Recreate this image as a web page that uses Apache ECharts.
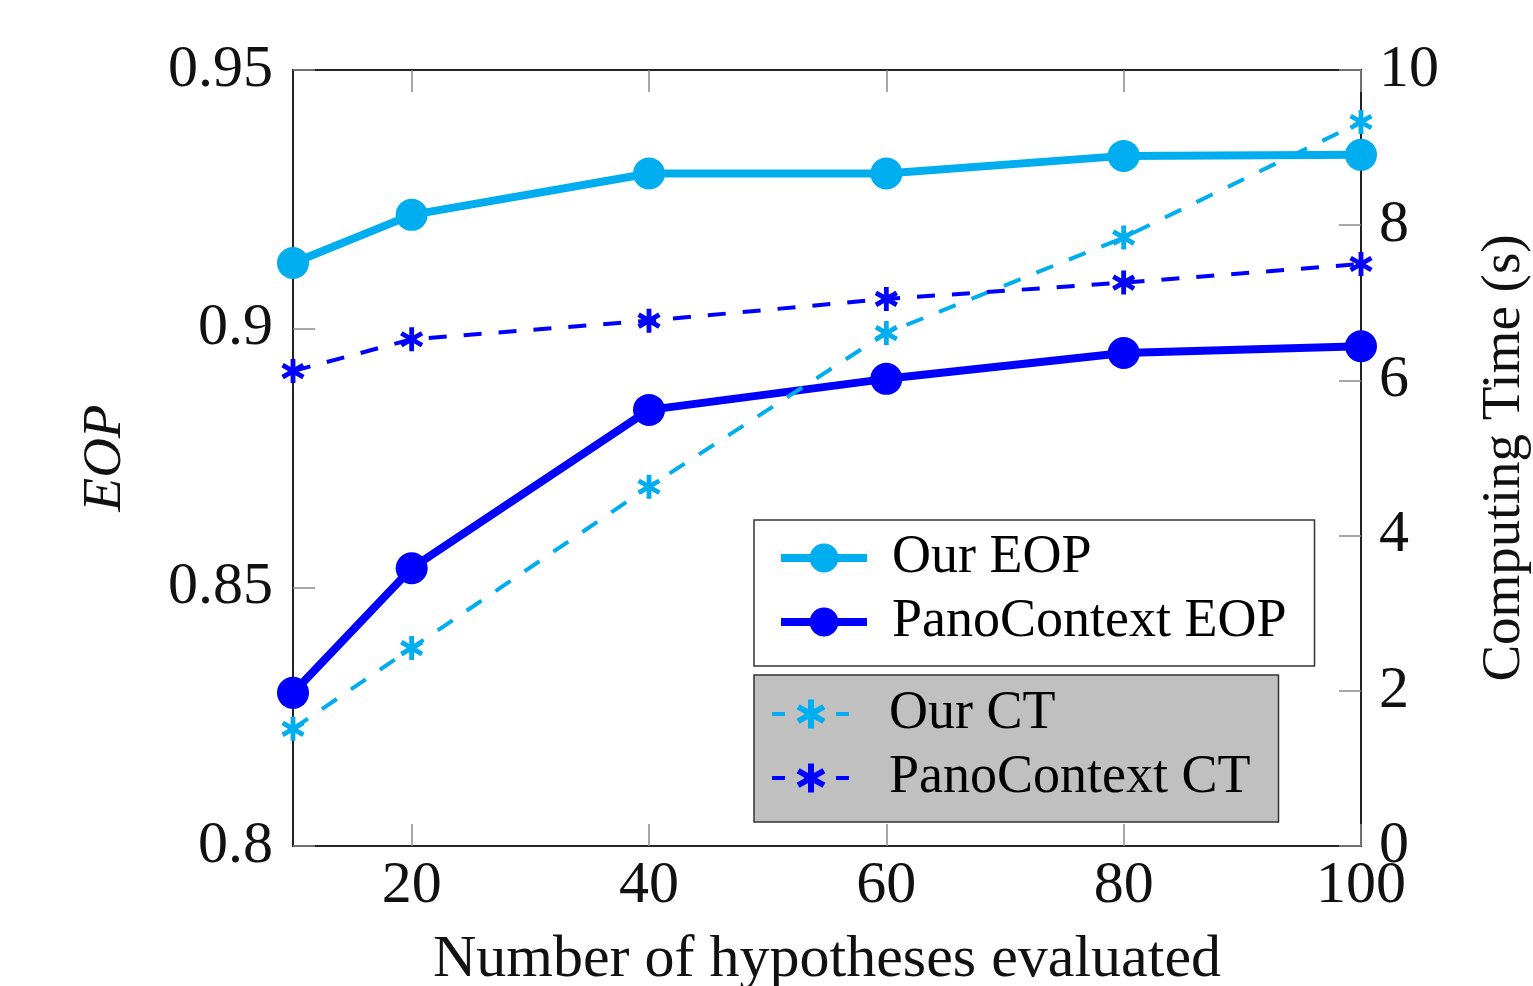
<!DOCTYPE html>
<html>
<head>
<meta charset="utf-8">
<script src="https://cdn.jsdelivr.net/npm/echarts@6/dist/echarts.min.js"></script>
<style>
html,body{margin:0;padding:0;background:#fff;}
#chart{width:1533px;height:986px;}
</style>
</head>
<body>
<div id="chart"></div>
<script>
// ---- data ----
const hypotheses = [10, 20, 40, 60, 80, 100];
const ourEOP = [0.9127, 0.9220, 0.9300, 0.9300, 0.9334, 0.9336];
const panoEOP = [0.8296, 0.8537, 0.8843, 0.8903, 0.8953, 0.8966];
const ourCT = [1.51, 2.55, 4.63, 6.61, 7.84, 9.33];
const panoCT = [6.12, 6.53, 6.77, 7.05, 7.26, 7.50];
const xTickValues = [20, 40, 60, 80, 100];
const seriesNames = ['Our EOP', 'PanoContext EOP', 'Our CT', 'PanoContext CT'];

// ---- styles ----
const CYAN = '#00AEEF';
const BLUE = '#0000FF';
const FONT = '"Liberation Serif", "Times New Roman", serif';

function asteriskPath() {
  const w = 0.2;
  let p = '';
  [90, 30, -30].forEach(function (deg) {
    const a = deg * Math.PI / 180;
    const dx = Math.cos(a), dy = Math.sin(a);
    const nx = -dy * w, ny = dx * w;
    const pts = [
      [dx + nx, dy + ny], [dx - nx, dy - ny],
      [-dx - nx, -dy - ny], [-dx + nx, -dy + ny]
    ].map(function (q) { return ((q[0] * 50 + 60).toFixed(2)) + ' ' + ((q[1] * 50 + 60).toFixed(2)); });
    p += 'M' + pts[0] + ' L' + pts[1] + ' L' + pts[2] + ' L' + pts[3] + ' Z ';
  });
  return 'path://' + p;
}
const STAR = asteriskPath();

function pairs(xs, ys) { return xs.map(function (x, i) { return [x, ys[i]]; }); }

const chart = echarts.init(document.getElementById('chart'), null, { renderer: 'canvas' });

const tickStyle = { show: true, inside: true, length: 22, lineStyle: { color: '#8a8a8a', width: 1.5 } };
const axisLineStyle = { show: true, lineStyle: { color: '#222', width: 2 } };
const LABEL_SIZE = 60;

chart.setOption({
  backgroundColor: '#fff',
  animation: false,
  textStyle: { fontFamily: FONT },
  grid: { left: 293, right: 172, top: 70, bottom: 140, show: true, borderColor: '#222', borderWidth: 2,
    containLabel: false, outerBoundsMode: 'none' },
  legend: [
    {
      data: ['Our EOP', 'PanoContext EOP'],
      orient: 'vertical', left: 754, top: 520,
      itemWidth: 86, itemHeight: 36, itemGap: 8,
      padding: [10, 28, 16, 23],
      backgroundColor: '#fff', borderColor: '#333', borderWidth: 1.5, borderRadius: 0,
      lineStyle: { width: 8 },
      textStyle: { fontFamily: FONT, fontSize: 54, color: '#000', lineHeight: 56, padding: [0, 0, 0, 20] },
      selectedMode: false
    },
    {
      data: ['Our CT', 'PanoContext CT'],
      orient: 'vertical', left: 754, top: 675,
      itemWidth: 78, itemHeight: 36, itemGap: 8,
      padding: [11, 28, 16, 16],
      backgroundColor: '#c0c0c0', borderColor: '#333', borderWidth: 1.5, borderRadius: 0,
      lineStyle: { width: 4, type: [13, 19] },
      textStyle: { fontFamily: FONT, fontSize: 54, color: '#000', lineHeight: 56, padding: [0, 0, 0, 34] },
      selectedMode: false
    }
  ],
  xAxis: [
    {
      type: 'value', min: 10, max: 100, position: 'bottom',
      name: 'Number of hypotheses evaluated', nameLocation: 'middle', nameGap: 84,
      nameTextStyle: { fontFamily: FONT, fontSize: LABEL_SIZE, color: '#111' },
      axisLine: axisLineStyle,
      axisTick: Object.assign({}, tickStyle, { customValues: xTickValues }),
      axisLabel: { customValues: xTickValues, fontFamily: FONT, fontSize: LABEL_SIZE, color: '#111', margin: 10 },
      splitLine: { show: false }
    },
    {
      type: 'value', min: 10, max: 100, position: 'top',
      axisLine: axisLineStyle,
      axisTick: Object.assign({}, tickStyle, { customValues: xTickValues }),
      axisLabel: { show: false },
      splitLine: { show: false }
    }
  ],
  yAxis: [
    {
      type: 'value', min: 0.8, max: 0.95, interval: 0.05, position: 'left',
      name: 'EOP', nameLocation: 'middle', nameGap: 160,
      nameTextStyle: { fontFamily: FONT, fontSize: 55, fontStyle: 'italic', color: '#111' },
      axisLine: axisLineStyle,
      axisTick: tickStyle,
      axisLabel: { fontFamily: FONT, fontSize: LABEL_SIZE, color: '#111', margin: 20,
        formatter: function (v) { return String(parseFloat(v.toFixed(2))); } },
      splitLine: { show: false }
    },
    {
      type: 'value', min: 0, max: 10, interval: 2, position: 'right',
      name: 'Computing Time (s)', nameLocation: 'middle', nameGap: 116,
      nameTextStyle: { fontFamily: FONT, fontSize: 55, color: '#111' },
      axisLine: axisLineStyle,
      axisTick: tickStyle,
      axisLabel: { fontFamily: FONT, fontSize: LABEL_SIZE, color: '#111', margin: 18 },
      splitLine: { show: false }
    }
  ],
  series: [
    {
      name: seriesNames[0], type: 'line', xAxisIndex: 0, yAxisIndex: 0,
      data: pairs(hypotheses, ourEOP), clip: false, z: 3,
      symbol: 'circle', symbolSize: 32,
      lineStyle: { color: CYAN, width: 8 }, itemStyle: { color: CYAN }
    },
    {
      name: seriesNames[1], type: 'line', xAxisIndex: 0, yAxisIndex: 0,
      data: pairs(hypotheses, panoEOP), clip: false, z: 3,
      symbol: 'circle', symbolSize: 32,
      lineStyle: { color: BLUE, width: 8 }, itemStyle: { color: BLUE }
    },
    {
      name: seriesNames[2], type: 'line', xAxisIndex: 0, yAxisIndex: 1,
      data: pairs(hypotheses, ourCT), clip: false, z: 4,
      symbol: STAR, symbolSize: 24, symbolKeepAspect: true,
      lineStyle: { color: CYAN, width: 4, type: [18, 17] }, itemStyle: { color: CYAN }
    },
    {
      name: seriesNames[3], type: 'line', xAxisIndex: 0, yAxisIndex: 1,
      data: pairs(hypotheses, panoCT), clip: false, z: 4,
      symbol: STAR, symbolSize: 24, symbolKeepAspect: true,
      lineStyle: { color: BLUE, width: 4, type: [18, 17] }, itemStyle: { color: BLUE }
    }
  ]
});
</script>
</body>
</html>
